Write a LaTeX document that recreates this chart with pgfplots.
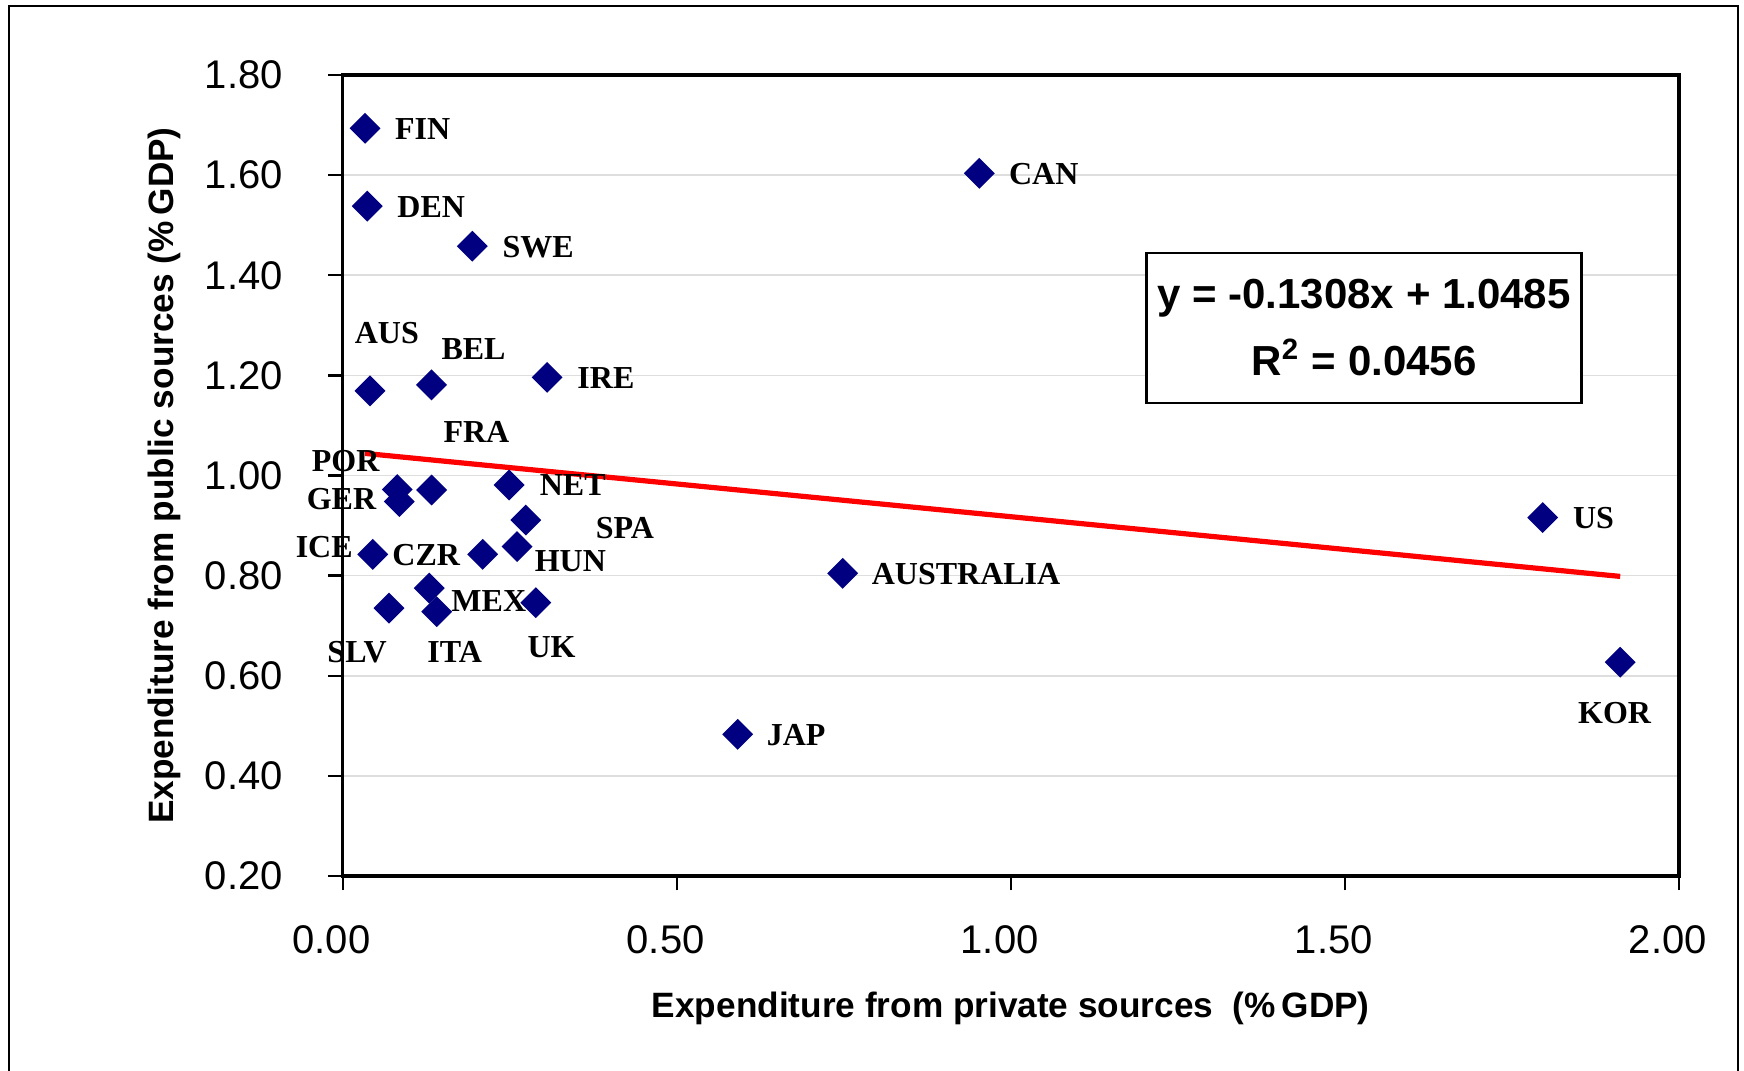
\documentclass[border=0pt]{standalone}
\usepackage{fontspec}
\setmainfont{Liberation Sans}
\newfontfamily\timesf{Liberation Serif}
\usepackage{pgfplots}
\pgfplotsset{compat=1.18}
\definecolor{navy}{RGB}{0,0,128}
\definecolor{gridgray}{RGB}{222,222,222}
\begin{document}
\begin{tikzpicture}
\path[use as bounding box] (0,0) rectangle (436pt,267.5pt);
\draw[line width=0.7pt] (2.25pt,-5pt) -- (2.25pt,266pt) -- (434.5pt,266pt) -- (434.5pt,-5pt);
\begin{axis}[
  at={(85.675pt,48.5pt)}, anchor=south west,
  scale only axis, width=334.075pt, height=200.25pt,
  xmin=0, xmax=2, ymin=0.2, ymax=1.8,
  xtick={0,0.5,1,1.5,2},
  ytick={0.2,0.4,0.6,0.8,1.0,1.2,1.4,1.6,1.8},
  tick pos=left, tick align=outside,
  major tick length=3.6pt,
  every tick/.style={black, line width=0.6pt},
  axis line style={line width=0.8pt},
  ymajorgrids, grid style={gridgray, line width=0.4pt},
  /pgf/number format/.cd, fixed, fixed zerofill, precision=2, assume math mode=true,
  /pgfplots/.cd,
  ticklabel style={font=\fontsize{10}{12}\selectfont},
  yticklabel style={anchor=east, inner sep=0pt, xshift=-11.2pt},
  xticklabel style={anchor=north, inner sep=0pt, yshift=-8.7pt, xshift=-2.8pt},
  clip=false,
  label style={font=\bfseries\fontsize{8.8}{10}\selectfont},
  xlabel={Expenditure from private sources~~(\%\,GDP)},
  xlabel style={at={(axis description cs:0.5,0)}, anchor=center, yshift=-33pt},
  ylabel={Expenditure from public sources (\%\,GDP)},
  ylabel style={at={(axis description cs:0,0.5)}, anchor=center, rotate=0, yshift=44.5pt},
]
% trend line
\addplot[red, line width=1.3pt, no marks] coordinates {(0.0334,1.0441) (1.912,0.7984)};
% countries
\addplot[only marks, mark=square*, mark size=2.53pt, color=navy, mark options={rotate=45, fill=navy, draw=navy}] coordinates {
(0.0334,1.6935) (0.0368,1.538) (0.194,1.458) (0.9528,1.6036)
(0.0409,1.169) (0.133,1.181) (0.306,1.196)
(0.0817,0.972) (0.0847,0.948) (0.133,0.971) (0.249,0.981)
(0.274,0.911) (0.261,0.858) (0.045,0.8425) (0.2095,0.8425)
(0.1296,0.775) (0.1407,0.728) (0.0693,0.735) (0.289,0.746)
(0.7483,0.8046) (0.5912,0.483) (1.796,0.916) (1.912,0.627)
};
\begin{scope}[every node/.style={font=\timesf\bfseries\fontsize{8}{9.6}\selectfont, anchor=west, inner sep=0pt}]
\node at (axis cs:0.0772,1.6915) {FIN};
\node at (axis cs:0.0808,1.5369) {DEN};
\node at (axis cs:0.238,1.4564) {SWE};
\node at (axis cs:0.9962,1.6016) {CAN};
\node at (axis cs:0.0169,1.284) {AUS};
\node at (axis cs:0.1467,1.252) {BEL};
\node at (axis cs:0.3502,1.1953) {IRE};
\node at (axis cs:0.1497,1.0863) {FRA};
\node at (axis cs:-0.0474,1.0283) {POR};
\node at (axis cs:0.2938,0.9804) {NET};
\node at (axis cs:-0.0549,0.9524) {GER};
\node at (axis cs:0.3776,0.8945) {SPA};
\node at (axis cs:-0.0714,0.8571) {ICE};
\node at (axis cs:0.0733,0.8405) {CZR};
\node at (axis cs:0.2863,0.8286) {HUN};
\node at (axis cs:0.1616,0.7493) {MEX};
\node at (axis cs:-0.024,0.6474) {SLV};
\node at (axis cs:0.1257,0.6474) {ITA};
\node at (axis cs:0.2754,0.658) {UK};
\node at (axis cs:0.7907,0.8026) {AUSTRALIA};
\node at (axis cs:0.6335,0.4822) {JAP};
\node at (axis cs:1.8403,0.9145) {US};
\node at (axis cs:1.8478,0.5249) {KOR};
\end{scope}
\node[draw=black, line width=0.6pt, fill=white, minimum width=108.7pt, minimum height=37.5pt, inner sep=0pt, align=center, font=\bfseries\fontsize{10.5}{16.7}\selectfont]
  at (axis cs:1.5286,1.2952) {y = -0.1308x + 1.0485\\R\textsuperscript{2} = 0.0456};
\end{axis}
\end{tikzpicture}
\end{document}
